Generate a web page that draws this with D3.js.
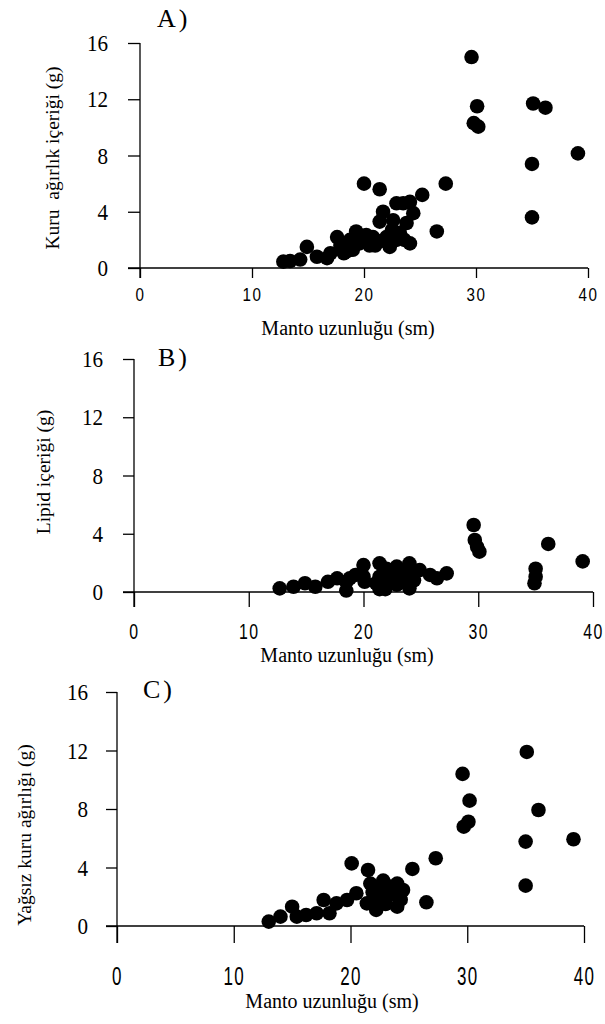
<!DOCTYPE html>
<html>
<head>
<meta charset="utf-8">
<script src="https://cdn.jsdelivr.net/npm/d3@7"></script>
<style>
  body { margin: 0; background: #fff; }
  svg { display: block; }
</style>
</head>
<body>
<script>
// eksen değerleri
const xTicks = [0, 10, 20, 30, 40];
const yTicks = [0, 4, 8, 12, 16];

// A) Kuru ağırlık içeriği (g) - [manto uzunluğu, değer]
const kuruAgirlik = [
  [12.8, 0.45], [13.4, 0.5], [14.3, 0.6], [14.9, 1.5], [15.8, 0.8], [16.7, 0.7],
  [17.0, 1.05], [17.6, 2.2], [17.9, 1.6], [18.2, 1.05], [18.5, 1.2], [18.75, 2.0],
  [19.0, 1.3], [19.3, 2.6], [19.6, 1.75], [20.0, 6.0], [20.2, 2.35], [20.8, 2.2],
  [21.4, 5.6], [21.4, 1.9], [21.4, 3.3], [21.7, 4.0], [22.0, 2.2], [22.3, 1.5],
  [22.6, 3.4], [22.9, 4.6], [22.9, 2.0], [23.2, 2.5], [23.5, 4.6], [23.8, 3.2],
  [24.1, 4.7], [24.1, 1.75], [24.4, 3.9], [25.2, 5.2], [26.5, 2.6], [27.3, 6.0],
  [29.6, 15.0], [30.1, 11.5], [29.8, 10.3], [30.2, 10.05], [35.1, 11.7], [36.2, 11.4],
  [39.1, 8.15], [35.0, 7.4], [35.0, 3.6],
  [20.5, 1.6], [21.0, 1.6], [22.5, 2.7], [23.6, 2.0]
];

// B) Lipid içeriği (g)
const lipidIcerigi = [
  [12.7, 0.25], [13.9, 0.36], [14.9, 0.6], [15.8, 0.36], [16.9, 0.7], [17.7, 0.94],
  [18.5, 0.7], [18.5, 0.1], [18.8, 0.94], [19.3, 1.17], [20.0, 1.85], [20.0, 1.05],
  [20.1, 0.7], [21.4, 1.97], [21.4, 1.05], [21.4, 0.2], [21.9, 0.2], [22.2, 1.28],
  [22.2, 0.7], [22.9, 1.74], [22.9, 0.5], [23.6, 1.05], [24.0, 1.97], [24.0, 0.25],
  [24.9, 1.5], [25.8, 1.17], [26.4, 0.94], [27.25, 1.28], [29.6, 4.6], [29.7, 3.57],
  [29.9, 3.1], [30.1, 2.77], [36.1, 3.3], [39.1, 2.1], [35.0, 1.6], [35.0, 1.05],
  [34.9, 0.6],
  [21.1, 0.6], [22.0, 1.6], [22.6, 1.1], [23.3, 0.7], [23.9, 1.4], [24.4, 0.8]
];

// C) Yağsız kuru ağırlık (g)
const yagsizKuru = [
  [13.0, 0.3], [14.0, 0.64], [15.0, 1.32], [15.4, 0.64], [16.2, 0.75], [17.1, 0.87],
  [17.7, 1.78], [18.2, 0.87], [18.8, 1.55], [19.7, 1.78], [20.1, 4.28], [20.5, 2.24],
  [21.4, 1.55], [21.5, 3.83], [21.7, 2.9], [22.0, 1.78], [22.2, 1.1], [22.8, 3.1],
  [23.1, 2.0], [23.4, 2.69], [24.0, 2.9], [24.0, 1.32], [24.5, 2.46], [25.3, 3.9],
  [26.5, 1.62], [27.3, 4.63], [29.6, 10.4], [30.2, 8.57], [30.1, 7.13], [29.7, 6.79],
  [35.1, 11.9], [36.1, 7.93], [39.1, 5.93], [35.0, 5.77], [35.0, 2.76],
  [21.9, 2.3], [22.4, 2.4], [23.0, 1.5], [23.7, 2.2], [24.3, 1.8]
];

const serif = '"Liberation Serif", "DejaVu Serif", serif';
const sans = '"Liberation Sans", Arimo, sans-serif';

const svg = d3.select('body').append('svg')
  .attr('width', 605).attr('height', 1024);

function drawPanel(p) {
  const x = d3.scaleLinear().domain([0, 40]).range([p.left, p.right]);
  const y = d3.scaleLinear().domain([0, 16]).range([p.bottom, p.top]);
  const g = svg.append('g');

  // X ekseni
  const xAxis = d3.axisBottom(x).tickValues(xTicks)
    .tickSize(p.xTick).tickSizeOuter(0).tickPadding(p.xPad);
  const gx = g.append('g').attr('transform', `translate(0,${p.bottom})`).call(xAxis);
  gx.select('.domain').attr('d', `M${p.left - p.yTick},0H${p.right}`);
  gx.selectAll('line, path').attr('stroke-width', 1.3);
  gx.selectAll('text')
    .style('font-family', sans).style('font-size', p.xFont + 'px')
    .style('letter-spacing', '2px')
    .attr('transform', `scale(${p.xScale},1)`)
    .attr('fill', '#000');

  // Y ekseni
  const yAxis = d3.axisLeft(y).tickValues(yTicks)
    .tickSize(p.yTick).tickSizeOuter(0).tickPadding(p.yPad);
  const gy = g.append('g').attr('transform', `translate(${p.left},0)`).call(yAxis);
  gy.select('.domain').attr('d', `M0,${p.top}V${p.bottom + p.xTick}`);
  gy.selectAll('line, path').attr('stroke-width', 1.3);
  const sy = 0.88;
  gy.selectAll('text')
    .style('font-family', serif).style('font-size', '24px')
    .attr('x', -(p.yTick + p.yPad) / sy)
    .attr('transform', `scale(${sy},1)`)
    .attr('fill', '#000');

  // noktalar
  g.append('g').selectAll('circle').data(p.data).join('circle')
    .attr('cx', d => x(d[0]))
    .attr('cy', d => y(d[1]))
    .attr('r', 7.3)
    .attr('fill', '#000');

  // başlıklar
  g.append('text')
    .attr('x', p.xt[0]).attr('y', p.xt[1])
    .attr('text-anchor', 'middle')
    .style('font-family', serif).style('font-size', '20px')
    .text('Manto uzunluğu (sm)');

  g.append('text')
    .attr('transform', `translate(${p.yt[0]},${p.yt[1]}) rotate(-90)`)
    .attr('text-anchor', 'middle')
    .attr('dominant-baseline', 'central')
    .style('font-family', serif).style('font-size', '19.5px')
    .style('white-space', 'pre')
    .text(p.yTitle);

  g.append('text')
    .attr('x', p.lt[0]).attr('y', p.lt[1])
    .style('font-family', serif).style('font-size', '26px')
    .style('letter-spacing', '3px')
    .text(p.label);
}

drawPanel({
  data: kuruAgirlik, label: 'A)', yTitle: 'Kuru  ağırlık içeriği (g)',
  left: 140, right: 588, bottom: 268, top: 43,
  xTick: 10, yTick: 12, xPad: 10, yPad: 20, xFont: 19, xScale: 0.8,
  xt: [348, 335], yt: [52, 158], lt: [157, 27]
});
drawPanel({
  data: lipidIcerigi, label: 'B)', yTitle: 'Lipid içeriği (g)',
  left: 134, right: 593, bottom: 592, top: 359,
  xTick: 15, yTick: 11, xPad: 16, yPad: 20, xFont: 22, xScale: 0.72,
  xt: [347, 662], yt: [43, 472], lt: [158, 366]
});
drawPanel({
  data: yagsizKuru, label: 'C)', yTitle: 'Yağsız kuru ağırlığı (g)',
  left: 117, right: 584, bottom: 926, top: 692,
  xTick: 17, yTick: 11, xPad: 24, yPad: 18, xFont: 25, xScale: 0.68,
  xt: [332, 1008], yt: [24, 835], lt: [143, 698]
});
</script>
</body>
</html>
